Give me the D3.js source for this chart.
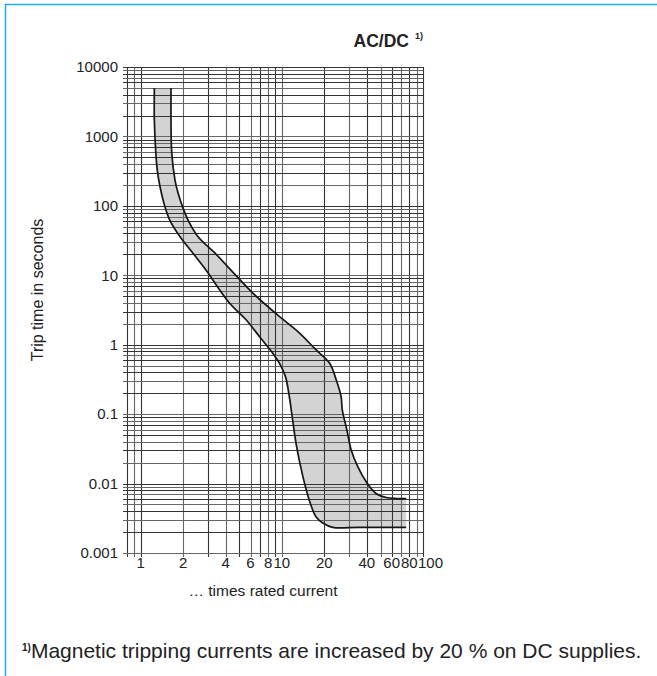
<!DOCTYPE html>
<html>
<head>
<meta charset="utf-8">
<script src="https://cdn.jsdelivr.net/npm/d3@7"></script>
<style>
  body { margin: 0; background: #fff; }
  svg { display: block; font-family: "Liberation Sans", Arial, sans-serif; }
</style>
</head>
<body>
<div id="chart"></div>
<script>
// tick labels
const xTickValues = [1, 2, 4, 6, 8, 10, 20, 40, 60, 80, 100];
const yTickValues = [0.001, 0.01, 0.1, 1, 10, 100, 1000, 10000];
const yTickLabels = ["0.001", "0.01", "0.1", "1", "10", "100", "1000", "10000"];

// band boundaries: [multiple of rated current, trip time s]
const minCurve = [
  [1.25, 5000], [1.25, 1700], [1.28, 580], [1.31, 330], [1.37, 190], [1.46, 110],
  [1.61, 62], [1.9, 36], [2.34, 21], [2.85, 12.5], [4.27, 3.95],
  [5.6, 2.27], [6.96, 1.3], [8.65, 0.75], [9.63, 0.54], [10.6, 0.35], [11.2, 0.2],
  [11.8, 0.097], [12.6, 0.038], [14.1, 0.0126], [15.9, 0.0052], [17.5, 0.0033],
  [19.5, 0.0027], [22.9, 0.00234], [35, 0.00234], [76, 0.00234]
];
const maxCurve = [
  [1.64, 5000], [1.64, 1700], [1.66, 580], [1.75, 235], [1.84, 153], [1.98, 97],
  [2.17, 62], [2.55, 36], [3.35, 21], [4.76, 9.8], [6.25, 5.5], [9.65, 2.53],
  [13.4, 1.46], [17.5, 0.84], [21.8, 0.54], [24.3, 0.31], [26.3, 0.178],
  [26.8, 0.115], [28.9, 0.059], [31, 0.0305], [34.5, 0.0175], [39.6, 0.0106],
  [46.5, 0.0072], [54.8, 0.0063], [65, 0.0061], [76, 0.0061]
];

const W = 657, H = 676;
const svg = d3.select("#chart").append("svg").attr("width", W).attr("height", H);

const x = d3.scaleLog().domain([0.8, 100]).range([127, 423]);
const y = d3.scaleLog().domain([0.001, 10000]).range([553, 67]);

// frame (top + left only)
svg.append("line").attr("x1", 5).attr("x2", W).attr("y1", 4.5).attr("y2", 4.5)
  .attr("stroke", "#1aaee8").attr("stroke-width", 1.5);
svg.append("line").attr("x1", 5.5).attr("x2", 5.5).attr("y1", 4).attr("y2", H)
  .attr("stroke", "#1aaee8").attr("stroke-width", 1.5);

// band fill built from the two smoothed curves
const line = d3.line().x(d => x(d[0])).y(d => y(d[1])).curve(d3.curveCatmullRom.alpha(0.5));
const fillPath = line(minCurve) + "L" + line(maxCurve.slice().reverse()).slice(1) + "Z";
svg.append("path").attr("d", fillPath).attr("fill", "#d3d3d3").attr("stroke", "none");

// grid
const vLines = [0.8, 0.9];
for (let k = 1; k <= 9; k++) vLines.push(k);
for (let k = 1; k <= 9; k++) vLines.push(k * 10);
vLines.push(100);
const hLines = [];
for (let n = -3; n <= 3; n++) for (let k = 1; k <= 9; k++) hLines.push(+(k * Math.pow(10, n)).toPrecision(3));
hLines.push(10000);

const grid = svg.append("g");
grid.selectAll(".v").data(vLines).join("line")
  .attr("x1", d => Math.round(x(d)) + 0.5).attr("x2", d => Math.round(x(d)) + 0.5)
  .attr("y1", y(10000)).attr("y2", y(0.001) + 4)
  .attr("stroke", (d, i) => i % 2 ? "#666" : "#333").attr("stroke-width", 1.1);
grid.selectAll(".h").data(hLines).join("line")
  .attr("y1", d => Math.round(y(d)) + 0.5).attr("y2", d => Math.round(y(d)) + 0.5)
  .attr("x1", x(0.8) - 4).attr("x2", x(100))
  .attr("stroke", (d, i) => i % 2 ? "#333" : "#666").attr("stroke-width", 1.1);

// curves
[minCurve, maxCurve].forEach(c => {
  svg.append("path").attr("d", line(c)).attr("fill", "none")
    .attr("stroke", "#161616").attr("stroke-width", 1.7);
});

// tick labels
svg.append("g").selectAll("text").data(xTickValues).join("text")
  .attr("x", d => d === 100 ? x(d) - 5 : x(d)).attr("y", 568)
  .attr("text-anchor", d => d === 100 ? "start" : "middle")
  .attr("font-size", 15).attr("fill", "#222")
  .text(d => d);
svg.append("g").selectAll("text").data(yTickValues).join("text")
  .attr("x", 118).attr("y", d => y(d)).attr("dy", "0.35em")
  .attr("text-anchor", "end").attr("font-size", 15).attr("fill", "#222")
  .text((d, i) => yTickLabels[i]);

// axis titles
svg.append("text").attr("x", 263).attr("y", 596).attr("text-anchor", "middle")
  .attr("font-size", 15.5).attr("fill", "#222").text("\u2026 times rated current");
svg.append("text").attr("transform", "translate(43,290) rotate(-90)")
  .attr("text-anchor", "middle").attr("font-size", 16).attr("fill", "#222")
  .text("Trip time in seconds");

// title
svg.append("text").attr("x", 409).attr("y", 47).attr("text-anchor", "end")
  .attr("font-size", 17.5).attr("font-weight", "bold").attr("fill", "#222")
  .text("AC/DC");
svg.append("text").attr("x", 415).attr("y", 39).attr("font-size", 9).attr("font-weight", "bold")
  .attr("fill", "#222").text("1)");

// footnote
const foot = svg.append("text").attr("x", 22).attr("y", 658).attr("font-size", 21).attr("fill", "#222");
foot.append("tspan").attr("font-size", 10).attr("font-weight", "bold").attr("dy", -7).text("1)");
foot.append("tspan").attr("dy", 7).text("Magnetic tripping currents are increased by 20 % on DC supplies.");
</script>
</body>
</html>
